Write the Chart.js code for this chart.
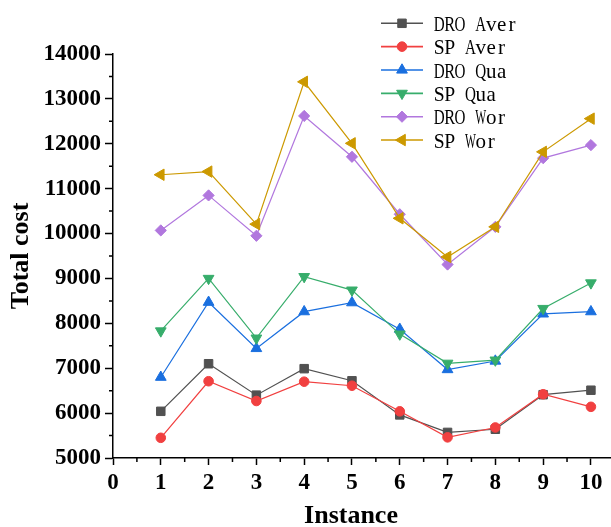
<!DOCTYPE html>
<html>
<head>
<meta charset="utf-8">
<script src="https://cdn.jsdelivr.net/npm/chart.js@4/dist/chart.umd.min.js"></script>
<style>
  html, body { margin: 0; padding: 0; background: #fff; }
</style>
</head>
<body>
<canvas id="costChart" width="611" height="527"></canvas>
<script>
//data
const instances = [1, 2, 3, 4, 5, 6, 7, 8, 9, 10];
const seriesNames = ['DRO Aver', 'SP Aver', 'DRO Qua', 'SP Qua', 'DRO Wor', 'SP Wor'];
const droAver = [6040, 7100, 6400, 6990, 6720, 5960, 5570, 5640, 6410, 6510];
const spAver  = [5450, 6710, 6270, 6700, 6610, 6040, 5460, 5680, 6420, 6140];
const droQua  = [6800, 8470, 7440, 8260, 8460, 7870, 6970, 7160, 8210, 8260];
const spQua   = [7830, 9000, 7670, 9040, 8740, 7760, 7110, 7180, 8330, 8900];
const droWor  = [10070, 10850, 9950, 12620, 11710, 10430, 9310, 10150, 11680, 11970];
const spWor   = [11310, 11380, 10210, 13380, 12010, 10340, 9480, 10150, 11820, 12560];
const yTicks  = [5000, 6000, 7000, 8000, 9000, 10000, 11000, 12000, 13000, 14000];
const xTicks  = [0, 1, 2, 3, 4, 5, 6, 7, 8, 9, 10];

const allSeries = [droAver, spAver, droQua, spQua, droWor, spWor];
const colors = ['#515151', '#f14040', '#1a6fdf', '#37ad6b', '#b177de', '#cc9900'];
const markers = [
  {pointStyle: 'rect', rotation: 0, radius: 6},
  {pointStyle: 'circle', rotation: 0, radius: 4.8},
  {pointStyle: 'triangle', rotation: 0, radius: 6.2},
  {pointStyle: 'triangle', rotation: 180, radius: 6.2},
  {pointStyle: 'rectRot', rotation: 0, radius: 5.6},
  {pointStyle: 'triangle', rotation: -90, radius: 6.6}
];

const serif = "'Times New Roman', 'Liberation Serif', serif";

//minor ticks on both axes
const minorTicks = {
  id: 'minorTicks',
  afterDraw(chart) {
    const {ctx, chartArea} = chart;
    const x = chart.scales.x, y = chart.scales.y;
    ctx.save();
    ctx.strokeStyle = '#000';
    ctx.lineWidth = 1.5;
    ctx.beginPath();
    for (let i = 0; i < xTicks.length; i++) {
      const px = x.getPixelForValue(xTicks[i] + 0.5);
      if (px > chartArea.right) continue;
      ctx.moveTo(px, chartArea.bottom);
      ctx.lineTo(px, chartArea.bottom + 4);
    }
    for (let i = 0; i < yTicks.length - 1; i++) {
      const py = y.getPixelForValue(yTicks[i] + 500);
      ctx.moveTo(chartArea.left, py);
      ctx.lineTo(chartArea.left - 4, py);
    }
    ctx.stroke();
    ctx.restore();
  }
};

//legend top right + x title
const sideBits = {
  id: 'sideBits',
  afterDraw(chart) {
    const ctx = chart.ctx;
    ctx.save();
    chart.data.datasets.forEach(function(ds, i){
      const cy = 23.3 + i * 23.35;
      ctx.strokeStyle = ds.borderColor;
      ctx.lineWidth = 1.6;
      ctx.beginPath();
      ctx.moveTo(381, cy);
      ctx.lineTo(423, cy);
      ctx.stroke();
      ctx.fillStyle = ds.pointBackgroundColor;
      ctx.strokeStyle = ds.pointBorderColor;
      ctx.lineWidth = 1;
      Chart.helpers.drawPoint(ctx, {
        pointStyle: ds.pointStyle, rotation: ds.pointRotation,
        radius: ds.pointRadius, borderWidth: 1
      }, 402, cy);

      // monospace-like text, one cell per char
      ctx.fillStyle = '#000';
      ctx.font = '21px ' + serif;
      ctx.textBaseline = 'alphabetic';
      ctx.textAlign = 'center';
      const cell = 10.4;
      const label = ds.label;
      for (let k = 0; k < label.length; k++) {
        const c = label[k];
        if (c === ' ') continue;
        const w = ctx.measureText(c).width;
        const sx = w > cell * 1.05 ? cell * 1.05 / w : 1;
        ctx.save();
        ctx.translate(434 + cell * k + cell / 2, cy + 7.5);
        ctx.scale(sx, 1);
        ctx.fillText(c, 0, 0);
        ctx.restore();
      }
    });

    ctx.fillStyle = '#000';
    ctx.font = 'bold 26px ' + serif;
    ctx.textAlign = 'center';
    ctx.textBaseline = 'alphabetic';
    ctx.fillText('Instance', 351, 523);
    ctx.restore();
  }
};

const datasets = allSeries.map(function(vals, i){
  return {
    label: seriesNames[i],
    data: instances.map(function(x, k){ return {x: x, y: vals[k]}; }),
    borderColor: colors[i],
    backgroundColor: colors[i],
    borderWidth: 1.2,
    pointStyle: markers[i].pointStyle,
    pointRotation: markers[i].rotation,
    pointRadius: markers[i].radius,
    pointBackgroundColor: colors[i],
    pointBorderColor: colors[i],
    pointBorderWidth: 1,
    tension: 0,
    order: 6 - i
  };
});

const axisFont = {family: serif, size: 23, weight: 'bold'};

new Chart(document.getElementById('costChart'), {
  type: 'line',
  data: {datasets: datasets},
  options: {
    responsive: false,
    animation: false,
    devicePixelRatio: 1,
    layout: {autoPadding: false, padding: {top: 54, right: 0, left: 0, bottom: 0}},
    plugins: {legend: {display: false}, tooltip: {enabled: false}},
    scales: {
      x: {
        type: 'linear',
        min: 0,
        max: 10.42,
        afterBuildTicks: function(s){ s.ticks = xTicks.map(function(v){ return {value: v}; }); },
        afterFit: function(s){ s.height = 69; s.paddingLeft = 0; s.paddingRight = 0; },
        ticks: {font: axisFont, color: '#000', padding: 4, maxRotation: 0, autoSkip: false},
        grid: {drawOnChartArea: false, drawTicks: true, tickLength: 7, tickColor: '#000', tickWidth: 1.5},
        border: {color: '#000', width: 1.5}
      },
      y: {
        min: 5000,
        max: 14000,
        afterBuildTicks: function(s){ s.ticks = yTicks.map(function(v){ return {value: v}; }); },
        afterFit: function(s){ s.width = 113; s.paddingTop = 0; s.paddingBottom = 0; },
        ticks: {font: axisFont, color: '#000', padding: 4, callback: function(v){ return String(v); }},
        grid: {drawOnChartArea: false, drawTicks: true, tickLength: 8, tickColor: '#000', tickWidth: 1.5},
        border: {color: '#000', width: 1.5},
        title: {display: true, text: 'Total cost', color: '#000', font: {family: serif, size: 26, weight: 'bold'}, padding: {top: 6, bottom: 0}}
      }
    }
  },
  plugins: [minorTicks, sideBits]
});
</script>
</body>
</html>
